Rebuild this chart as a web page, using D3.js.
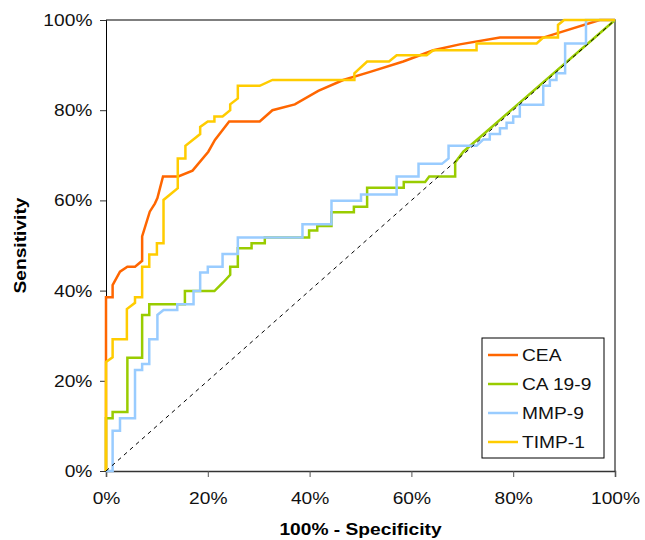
<!DOCTYPE html>
<html>
<head>
<meta charset="utf-8">
<script src="https://cdn.jsdelivr.net/npm/d3@7"></script>
<style>
  body { margin: 0; background: #fff; }
  svg { font-family: "Liberation Sans", Arial, sans-serif; }
</style>
</head>
<body>
<div id="chart"></div>
<script>
const width = 645;
const height = 540;

// ROC points: [100% - specificity, sensitivity] in percent
const cea = [[0,0],[0,38.5],[1.3,38.5],[1.3,41.2],[2.75,44.2],[4.2,45.3],[5.7,45.3],[7.1,46.6],[7.1,52],
  [8.6,57.5],[9.6,59.3],[10.1,60.5],[11.2,65.3],[14.2,65.3],[17,66.6],[20.1,70.8],[21.4,73.4],[24.2,77.5],
  [30.2,77.5],[32.7,80],[37.1,81.3],[41.7,84.3],[46.6,86.7],[51.9,88.5],[58.4,90.8],[64.3,93.3],[69.5,94.6],
  [77.4,96.1],[85.9,96.1],[97,100],[100,100]];

const ca199 = [[0,0],[0,11.7],[1.3,11.7],[1.3,13.1],[4.2,13.1],[4.2,25.1],[7.1,25.1],[7.1,34.6],[8.5,34.6],
  [8.5,37],[15.5,37],[15.5,39.9],[21.3,39.9],[23,41.8],[24.4,43.5],[24.4,45.3],[25.9,45.3],[25.9,49.4],
  [28.6,49.4],[28.6,50.5],[31.2,50.5],[31.2,51.8],[39.9,51.8],[39.9,53.3],[41.5,53.3],[41.5,54.3],[44.3,54.3],
  [44.3,57.4],[48.7,57.4],[48.7,58.6],[51.3,58.6],[51.3,62.8],[58.5,62.8],[58.5,64.1],[62.7,64.1],[63.5,65.3],
  [68.6,65.3],[68.6,68.4],[70.2,70.8],[100,100]];

const mmp9 = [[0,0],[1.3,0],[1.3,8.9],[2.75,8.9],[2.75,11.7],[5.7,11.7],[5.7,22.4],[7.1,22.4],[7.1,23.7],
  [8.5,23.7],[8.5,29.2],[10.1,29.2],[10.1,34.6],[11.3,35.7],[14,35.7],[14,37],[17.2,37],[17.2,39.9],
  [18.5,39.9],[18.5,44],[20,44],[20,45.3],[22.9,45.3],[22.9,48.1],[25.9,48.1],[25.9,51.8],[38.6,51.8],
  [38.6,54.7],[44.3,54.7],[44.3,59.9],[50.1,59.9],[50.1,61.3],[57.1,61.3],[57.1,65.3],[61.4,65.3],[61.4,68.1],
  [66,68.1],[67.3,69.3],[67.3,72.1],[72.8,72.1],[74.1,73.5],[75.4,73.5],[75.4,74.7],[77.4,74.7],[77.4,76],
  [78.7,76],[78.7,77.2],[80,77.2],[80,78.6],[81.3,78.6],[81.3,81.2],[85.9,81.2],[85.9,85.4],[87.2,85.4],
  [87.2,86.7],[88.5,86.7],[88.5,88.2],[90.2,88.2],[90.2,94.8],[94.3,94.8],[94.3,100],[100,100]];

const timp1 = [[0,0],[0,24.2],[1.3,25.2],[1.3,29.2],[4.1,29.2],[4.1,35.9],[5.7,37.3],[5.7,38.5],[7.1,38.5],
  [7.1,45.3],[8.5,45.3],[8.5,48],[10,48],[10,50.5],[11.3,50.5],[11.3,60.1],[14.1,62.7],[14.1,69.3],[15.6,69.3],
  [15.6,72.1],[18.5,74.7],[18.5,76.3],[20,77.5],[21.3,77.5],[21.3,78.6],[22.9,78.6],[24.4,80],[24.4,81.3],
  [25.9,82.6],[25.9,85.4],[30.2,85.4],[32.7,86.7],[48.8,86.7],[48.8,88.2],[51.3,90.8],[55.6,90.8],[57.1,92.2],
  [63,92.2],[64.3,93.3],[72.8,93.3],[72.8,94.8],[84.6,94.8],[85.9,96.1],[88.8,96.1],[88.8,98.9],[90,100],[100,100]];

const seriesNames = ["CEA", "CA 19-9", "MMP-9", "TIMP-1"];
const seriesData = [cea, ca199, mmp9, timp1];
const seriesColors = ["#ff6600", "#99cc00", "#99ccff", "#ffcc00"];
const tickValues = [0, 20, 40, 60, 80, 100];

const margin = {left: 106, right: 30, top: 20, bottom: 69};
const x = d3.scaleLinear().domain([0, 100]).range([margin.left, width - margin.right]);
const y = d3.scaleLinear().domain([0, 100]).range([height - margin.bottom, margin.top]);
const stretch = "scale(1.13,1)";

const svg = d3.select("#chart").append("svg")
    .attr("width", width).attr("height", height);

// frame (top and right)
svg.append("path")
    .attr("d", `M${x(0)},${y(100)}H${x(100)}V${y(0)}`)
    .attr("fill", "none").attr("stroke", "#555").attr("stroke-width", 1.5);

// axes
const xAxis = svg.append("g")
    .attr("transform", `translate(0,${y(0)})`)
    .call(d3.axisBottom(x).tickValues(tickValues).tickSize(6).tickPadding(15).tickFormat(d => d + "%"));
xAxis.select(".domain").attr("stroke", "#333").attr("stroke-width", 1.5);
xAxis.selectAll(".tick line").attr("stroke", "#555");
xAxis.selectAll("text").attr("font-size", 17).attr("fill", "#111").attr("transform", stretch);

const yAxis = svg.append("g")
    .attr("transform", `translate(${x(0)},0)`)
    .call(d3.axisLeft(y).tickValues(tickValues).tickSize(6).tickPadding(6).tickFormat(d => d + "%"));
yAxis.select(".domain").attr("stroke", "#000");
yAxis.selectAll(".tick line").attr("stroke", "#333");
yAxis.selectAll("text").attr("font-size", 17).attr("fill", "#111").attr("transform", stretch);

// axis titles
svg.append("text")
    .attr("transform", `translate(${(x(0) + x(100)) / 2},535) ${stretch}`)
    .attr("text-anchor", "middle").attr("font-size", 17).attr("font-weight", "bold")
    .text("100% - Specificity");

svg.append("text")
    .attr("transform", `translate(26,${(y(0) + y(100)) / 2}) rotate(-90) ${stretch}`)
    .attr("text-anchor", "middle").attr("font-size", 17).attr("font-weight", "bold")
    .text("Sensitivity");

// ROC curves
const line = d3.line().x(d => x(d[0])).y(d => y(d[1]));

svg.append("g")
    .selectAll("path")
    .data(seriesData)
    .join("path")
    .attr("d", line)
    .attr("fill", "none")
    .attr("stroke", (d, i) => seriesColors[i])
    .attr("stroke-width", 2.5)
    .attr("stroke-linejoin", "miter");

// reference diagonal
svg.append("path")
    .attr("d", line([[0, 0], [100, 100]]))
    .attr("fill", "none").attr("stroke", "#000").attr("stroke-width", 1)
    .attr("stroke-dasharray", "4,4");

// legend
const legend = svg.append("g").attr("transform", "translate(482,338)");
legend.append("rect")
    .attr("width", 122).attr("height", 120)
    .attr("fill", "#fff").attr("stroke", "#000").attr("stroke-width", 1);

const item = legend.selectAll(".item")
    .data(seriesNames)
    .join("g")
    .attr("class", "item")
    .attr("transform", (d, i) => `translate(0,${17 + i * 29})`);
item.append("line")
    .attr("x1", 6).attr("x2", 36)
    .attr("stroke", (d, i) => seriesColors[i]).attr("stroke-width", 2.5);
item.append("text")
    .attr("transform", `translate(40,0) ${stretch}`)
    .attr("dy", "0.36em").attr("font-size", 17).attr("fill", "#111")
    .text(d => d);
</script>
</body>
</html>
